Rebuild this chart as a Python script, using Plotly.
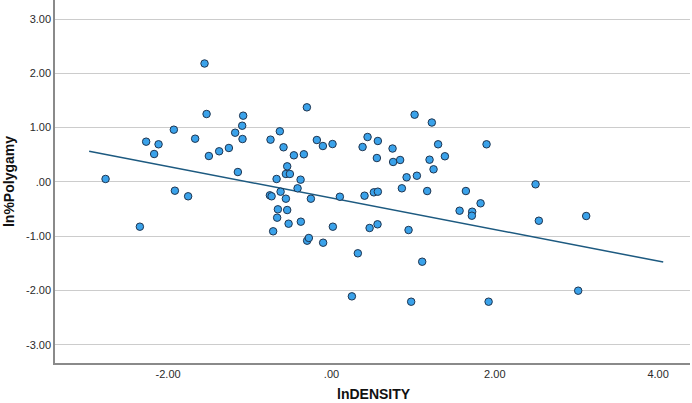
import plotly.graph_objects as go

# Data
ln_density = [
    -1.554, -1.529, -1.081, -1.093, -1.089, -1.179, -1.930, -1.669, -2.269, -2.117,
    -2.171, -1.501, -1.375, -1.256, -1.146, -2.766, -0.746, -0.632, -0.587, -0.301,
    -0.179, -0.105, 0.013, -0.460, -0.338, -0.542, -0.558, -0.509, -0.672, -0.378,
    -0.415, -0.623, -0.754, -0.733, -0.558, -0.252, 0.103, -1.917, -1.755, 1.018,
    1.229, 0.442, 0.381, 0.568, 0.748, 0.556, 0.755, 0.841, 1.306, 1.201,
    1.389, 1.250, 1.046, 0.920, 1.899, 2.499, 0.862, 1.172, 1.646, 0.405,
    0.519, 0.568, 1.569, 1.723, 1.719, 1.826, 2.539, 3.119, 0.467, 0.564,
    0.944, 0.323, 1.111, 0.250, 0.976, 1.924, 3.021, -2.346, -0.714, -0.656,
    -0.542, -0.665, -0.525, -0.375, -0.298, -0.277, -0.102, 0.017,
]
ln_polygamy = [
    2.180, 1.250, 1.219, 1.034, 0.789, 0.905, 0.961, 0.795, 0.740, 0.692,
    0.513, 0.476, 0.563, 0.624, 0.181, 0.053, 0.777, 0.931, 0.637, 1.373,
    0.771, 0.660, 0.697, 0.489, 0.508, 0.286, 0.145, 0.145, 0.053, 0.040,
    -0.119, -0.181, -0.248, -0.266, -0.310, -0.310, -0.274, -0.163, -0.266, 1.237,
    1.093, 0.826, 0.642, 0.753, 0.614, 0.439, 0.366, 0.403, 0.692, 0.408,
    0.471, 0.231, 0.113, 0.084, 0.692, -0.045, -0.119, -0.169, -0.169, -0.255,
    -0.193, -0.181, -0.532, -0.550, -0.624, -0.395, -0.716, -0.629, -0.850, -0.782,
    -0.887, -1.316, -1.471, -2.109, -2.208, -2.208, -2.005, -0.826, -0.911, -0.506,
    -0.519, -0.660, -0.771, -0.734, -1.084, -1.034, -1.121, -0.826,
]

# Fit line endpoints
fit_x = [-2.967, 4.062]
fit_y = [0.563, -1.477]

x_tickvals = [-2, 0, 2, 4]
x_ticktext = ["-2.00", ".00", "2.00", "4.00"]
y_tickvals = [-3, -2, -1, 0, 1, 2, 3]
y_ticktext = ["-3.00", "-2.00", "-1.00", ".00", "1.00", "2.00", "3.00"]

x_title = "lnDENSITY"
y_title = "ln%Polygamy"

fig = go.Figure()
fig.add_trace(go.Scatter(
    x=fit_x, y=fit_y, mode="lines",
    line=dict(color="#1d5a80", width=1.5),
    showlegend=False, hoverinfo="skip",
))
fig.add_trace(go.Scatter(
    x=ln_density, y=ln_polygamy, mode="markers",
    marker=dict(size=7.5, color="#3aa2ea", line=dict(color="#1f3550", width=1)),
    showlegend=False,
))

tick_font = dict(family="Liberation Sans, Arial, sans-serif", size=11, color="#2a2a2a")
title_font = dict(family="Liberation Sans, Arial, sans-serif", size=14, color="#111111")

fig.update_layout(
    width=692, height=403,
    margin=dict(l=55, r=2, t=0, b=40),
    paper_bgcolor="white", plot_bgcolor="white",
    xaxis=dict(
        range=[-3.385, 4.39],
        tickvals=x_tickvals, ticktext=x_ticktext,
        showgrid=False, zeroline=False,
        showline=True, linecolor="#8a8a8a", linewidth=1.5,
        ticks="", tickfont=tick_font,
    ),
    yaxis=dict(
        range=[-3.337, 3.35],
        tickvals=y_tickvals, ticktext=y_ticktext,
        showgrid=True, gridcolor="#cccccc", gridwidth=1.2,
        zeroline=False,
        showline=True, linecolor="#8a8a8a", linewidth=1.5,
        ticks="", tickfont=tick_font,
    ),
    annotations=[
        dict(text="<b>%s</b>" % x_title, xref="paper", yref="paper",
             x=0.5016, y=-0.0854, xanchor="center", yanchor="middle",
             showarrow=False, font=title_font),
        dict(text="<b>%s</b>" % y_title, xref="paper", yref="paper",
             x=-0.0732, y=0.5, xanchor="center", yanchor="middle",
             textangle=-90, showarrow=False, font=title_font),
    ],
)

fig.write_html(
    "out.html",
    config={"displayModeBar": False},
    post_script="document.body.style.margin='0px';document.body.style.overflow='hidden';",
)
